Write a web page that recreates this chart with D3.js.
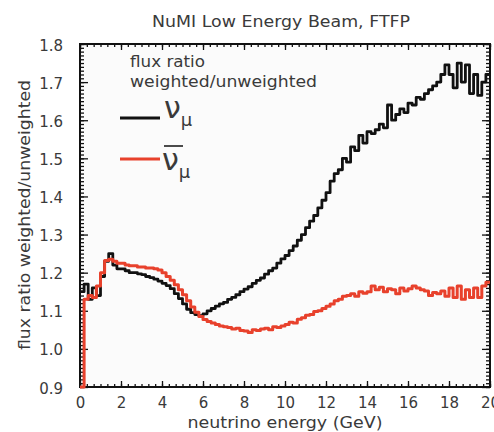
<!DOCTYPE html>
<html>
<head>
<meta charset="utf-8">
<script src="https://cdn.jsdelivr.net/npm/d3@7/dist/d3.min.js"></script>
<style>
  html, body { margin: 0; padding: 0; background: #fff; }
  svg { display: block; }
  text { font-family: "DejaVu Sans", "Liberation Sans", sans-serif; fill: #3a3a3a; }
</style>
</head>
<body>
<svg id="chart" width="494" height="432"></svg>
<script>
// Flux ratio (weighted / unweighted) per 0.2 GeV energy bin, 0–20 GeV
const binWidth = 0.2;
const energyBins = d3.range(0, 100).map(i => +(i * binWidth).toFixed(1));

const numuRatio = [
  1.150, 1.170, 1.130, 1.160, 1.140, 1.190, 1.230, 1.250, 1.220, 1.210,
  1.210, 1.205, 1.200, 1.200, 1.197, 1.195, 1.190, 1.187, 1.183, 1.178,
  1.172, 1.166, 1.158, 1.145, 1.132, 1.118, 1.104, 1.095, 1.090, 1.087,
  1.092, 1.100, 1.106, 1.112, 1.118, 1.122, 1.130, 1.135, 1.142, 1.150,
  1.157, 1.163, 1.172, 1.180, 1.186, 1.196, 1.205, 1.212, 1.225, 1.236,
  1.245, 1.258, 1.270, 1.285, 1.300, 1.318, 1.335, 1.350, 1.370, 1.390,
  1.410, 1.440, 1.460, 1.470, 1.500, 1.490, 1.530, 1.520, 1.560, 1.540,
  1.570, 1.565, 1.575, 1.590, 1.580, 1.640, 1.600, 1.615, 1.630, 1.620,
  1.645, 1.640, 1.660, 1.655, 1.670, 1.680, 1.690, 1.700, 1.720, 1.745,
  1.720, 1.685, 1.750, 1.700, 1.745, 1.670, 1.720, 1.665, 1.700, 1.720
];

const numubarRatio = [
  0.900, 1.130, 1.140, 1.135, 1.165, 1.200, 1.232, 1.235, 1.230, 1.225,
  1.225, 1.220, 1.218, 1.218, 1.215, 1.215, 1.212, 1.212, 1.210, 1.207,
  1.200, 1.190, 1.180, 1.168, 1.155, 1.142, 1.126, 1.110, 1.096, 1.085,
  1.077, 1.072, 1.068, 1.064, 1.060, 1.058, 1.056, 1.052, 1.054, 1.048,
  1.047, 1.043, 1.050, 1.048, 1.052, 1.054, 1.050, 1.058, 1.056, 1.060,
  1.064, 1.070, 1.068, 1.078, 1.082, 1.088, 1.090, 1.098, 1.100, 1.106,
  1.112, 1.118, 1.126, 1.130, 1.138, 1.140, 1.145, 1.138, 1.150, 1.146,
  1.150, 1.165, 1.155, 1.162, 1.150, 1.158, 1.155, 1.145, 1.160, 1.152,
  1.158, 1.165, 1.160, 1.155, 1.152, 1.140, 1.148, 1.145, 1.152, 1.138,
  1.160, 1.135, 1.165, 1.130, 1.155, 1.135, 1.160, 1.135, 1.165, 1.175
];

const xTickLabels = [0, 2, 4, 6, 8, 10, 12, 14, 16, 18, 20];
const yTickLabels = [0.9, 1.0, 1.1, 1.2, 1.3, 1.4, 1.5, 1.6, 1.7, 1.8];

const titleText = "NuMI Low Energy Beam, FTFP";
const xLabelText = "neutrino energy (GeV)";
const yLabelText = "flux ratio weighted/unweighted";
const legendTitle = ["flux ratio", "weighted/unweighted"];

const svg = d3.select("#chart");
const plot = { left: 80, right: 490, top: 44, bottom: 387 };

const x = d3.scaleLinear().domain([0, 20]).range([plot.left, plot.right]);
const y = d3.scaleLinear().domain([0.9, 1.8]).range([plot.bottom, plot.top]);

// faint plot background
svg.append("rect")
  .attr("x", plot.left).attr("y", plot.top)
  .attr("width", plot.right - plot.left).attr("height", plot.bottom - plot.top)
  .attr("fill", "#fbfbfb");

// step histogram lines
const toPoints = vals => {
  const pts = energyBins.map((e, i) => [e, vals[i]]);
  pts.push([20, vals[vals.length - 1]]);
  return pts;
};
const line = d3.line().x(d => x(d[0])).y(d => y(d[1])).curve(d3.curveStepAfter);

// axes with inward ticks on all four sides
const xMinor = d3.range(0, 61).map(i => i / 3);
const yMinor = d3.range(90, 181).map(i => i / 100);

function styleAxis(g) {
  g.select(".domain").remove();
  g.selectAll(".tick line").attr("stroke", "#111").attr("stroke-width", 1.3);
}

svg.append("g").attr("transform", `translate(0,${plot.bottom})`)
  .call(d3.axisBottom(x).tickValues(xMinor).tickSize(-3).tickFormat(""))
  .call(styleAxis);
svg.append("g").attr("transform", `translate(0,${plot.top})`)
  .call(d3.axisTop(x).tickValues(xMinor).tickSize(-3).tickFormat(""))
  .call(styleAxis);
svg.append("g").attr("transform", `translate(${plot.left},0)`)
  .call(d3.axisLeft(y).tickValues(yMinor).tickSize(-4).tickFormat(""))
  .call(styleAxis);
svg.append("g").attr("transform", `translate(${plot.right},0)`)
  .call(d3.axisRight(y).tickValues(yMinor).tickSize(-4).tickFormat(""))
  .call(styleAxis);

const xAxis = svg.append("g").attr("transform", `translate(0,${plot.bottom})`)
  .call(d3.axisBottom(x).tickValues(xTickLabels).tickSize(-6).tickPadding(10).tickFormat(d3.format("d")))
  .call(styleAxis);
xAxis.selectAll(".tick text").attr("font-size", 15).attr("fill", "#3a3a3a")
  .attr("font-family", "DejaVu Sans");

svg.append("g").attr("transform", `translate(0,${plot.top})`)
  .call(d3.axisTop(x).tickValues(xTickLabels).tickSize(-6).tickFormat(""))
  .call(styleAxis);

const yAxis = svg.append("g").attr("transform", `translate(${plot.left},0)`)
  .call(d3.axisLeft(y).tickValues(yTickLabels).tickSize(-8).tickPadding(17).tickFormat(d3.format(".1f")))
  .call(styleAxis);
yAxis.selectAll(".tick text").attr("font-size", 15).attr("fill", "#3a3a3a")
  .attr("font-family", "DejaVu Sans").attr("dy", "0.4em");

svg.append("g").attr("transform", `translate(${plot.right},0)`)
  .call(d3.axisRight(y).tickValues(yTickLabels).tickSize(-8).tickFormat(""))
  .call(styleAxis);

// plot frame
svg.append("rect")
  .attr("x", plot.left).attr("y", plot.top)
  .attr("width", plot.right - plot.left).attr("height", plot.bottom - plot.top)
  .attr("fill", "none").attr("stroke", "#111").attr("stroke-width", 2);

svg.append("path").datum(toPoints(numuRatio))
  .attr("d", line).attr("fill", "none")
  .attr("stroke", "#111").attr("stroke-width", 2.8).attr("stroke-linejoin", "round");

svg.append("path").datum(toPoints(numubarRatio))
  .attr("d", line).attr("fill", "none")
  .attr("stroke", "#e8412c").attr("stroke-width", 3).attr("stroke-linejoin", "round");

// title and axis titles
svg.append("text").attr("x", 281).attr("y", 27)
  .attr("text-anchor", "middle").attr("font-size", 15)
  .attr("textLength", 258).attr("lengthAdjust", "spacingAndGlyphs")
  .text(titleText);

svg.append("text").attr("x", 285).attr("y", 428)
  .attr("text-anchor", "middle").attr("font-size", 15)
  .attr("textLength", 195).attr("lengthAdjust", "spacingAndGlyphs")
  .text(xLabelText);

svg.append("text")
  .attr("transform", "translate(30,215) rotate(-90)")
  .attr("text-anchor", "middle").attr("font-size", 15)
  .attr("textLength", 270).attr("lengthAdjust", "spacingAndGlyphs")
  .text(yLabelText);

// legend
const legend = svg.append("g");
legend.append("text").attr("x", 130).attr("y", 67).attr("font-size", 15)
  .attr("textLength", 75).attr("lengthAdjust", "spacingAndGlyphs").text(legendTitle[0]);
legend.append("text").attr("x", 130).attr("y", 87).attr("font-size", 15)
  .attr("textLength", 187).attr("lengthAdjust", "spacingAndGlyphs").text(legendTitle[1]);

legend.append("line").attr("x1", 120).attr("x2", 160).attr("y1", 118).attr("y2", 118)
  .attr("stroke", "#111").attr("stroke-width", 3);
legend.append("line").attr("x1", 120).attr("x2", 160).attr("y1", 159).attr("y2", 159)
  .attr("stroke", "#e8412c").attr("stroke-width", 3);

// ν_μ and ν̄_μ symbols, subscript set as a tspan
const serif = "DejaVu Serif, Liberation Serif, serif";
function neutrinoLabel(xPos, yPos) {
  const t = legend.append("text").attr("x", xPos).attr("y", yPos)
    .attr("font-family", serif).attr("fill", "#111").attr("font-size", 30);
  t.append("tspan").text("ν");
  t.append("tspan").attr("font-size", 18).attr("dx", 0).attr("dy", 8).text("μ");
  return t;
}
neutrinoLabel(164, 118);
neutrinoLabel(162, 170);
legend.append("line").attr("x1", 164).attr("x2", 183).attr("y1", 146).attr("y2", 146)
  .attr("stroke", "#111").attr("stroke-width", 1.5);
</script>
</body>
</html>
